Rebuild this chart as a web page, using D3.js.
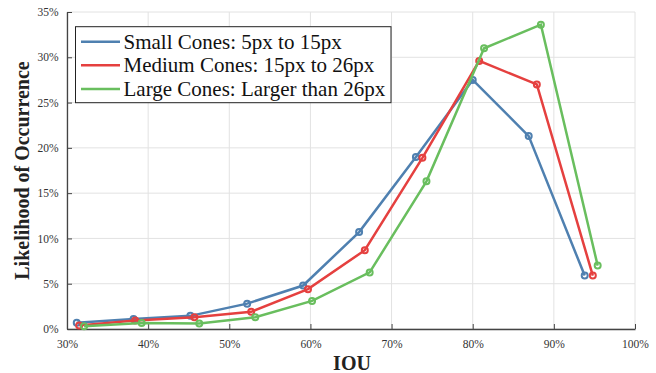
<!DOCTYPE html>
<html>
<head>
<meta charset="utf-8">
<script src="https://cdn.jsdelivr.net/npm/d3@7"></script>
<style>
  body { margin: 0; background: #fff; }
  .grid line { stroke: #e2e2e2; }
</style>
</head>
<body>
<div class="grafico"></div>
<script>
var margin = { top: 12, right: 21, bottom: 44, left: 67 },
  width = 656 - margin.left - margin.right,
  height = 373 - margin.top - margin.bottom;

// IOU (x) and likelihood (y), both in %
const seriesNames = ["Small Cones: 5px to 15px", "Medium Cones: 15px to 26px", "Large Cones: Larger than 26px"];
const colors = ["#4f80b0", "#e5403f", "#69be5e"];

const smallX = [31.2, 38.2, 45.2, 52.2, 59.1, 66.0, 73.0, 80.0, 86.9, 93.8];
const smallY = [0.7, 1.1, 1.45, 2.8, 4.8, 10.7, 19.0, 27.5, 21.3, 5.9];
const mediumX = [31.5, 38.4, 45.7, 52.7, 59.7, 66.7, 73.8, 80.8, 87.9, 94.8];
const mediumY = [0.4, 0.95, 1.3, 1.9, 4.4, 8.7, 18.9, 29.6, 27.0, 5.9];
const largeX = [32.1, 39.2, 46.3, 53.2, 60.2, 67.3, 74.3, 81.4, 88.4, 95.4];
const largeY = [0.3, 0.65, 0.6, 1.3, 3.1, 6.25, 16.3, 31.0, 33.6, 7.0];

const xTicks = [30, 40, 50, 60, 70, 80, 90, 100];
const yTicks = [0, 5, 10, 15, 20, 25, 30, 35];

const series = [[smallX, smallY], [mediumX, mediumY], [largeX, largeY]].map((s, i) => ({
  name: seriesNames[i],
  color: colors[i],
  values: s[0].map((x, j) => ({ x: x, y: s[1][j] }))
}));

let svg = d3.select(".grafico")
  .append("svg")
  .attr("width", 656)
  .attr("height", 373);

let g = svg.append("g")
  .attr("transform", "translate(" + margin.left + "," + margin.top + ")");

const x = d3.scaleLinear().domain([30, 100]).range([0, width]);
const y = d3.scaleLinear().domain([0, 35]).range([height, 0]);

// grid
g.append("g").attr("class", "grid")
  .selectAll("line.v").data(xTicks).enter().append("line")
  .attr("x1", d => x(d)).attr("x2", d => x(d))
  .attr("y1", 0).attr("y2", height);
g.append("g").attr("class", "grid")
  .selectAll("line.h").data(yTicks).enter().append("line")
  .attr("x1", 0).attr("x2", width)
  .attr("y1", d => y(d)).attr("y2", d => y(d));

// axes
let xAxis = g.append("g")
  .attr("transform", "translate(0," + height + ")")
  .call(d3.axisBottom(x).tickValues(xTicks).tickSizeInner(-5).tickSizeOuter(0).tickPadding(11).tickFormat(d => d + "%"));
let yAxis = g.append("g")
  .call(d3.axisLeft(y).tickValues(yTicks).tickSizeInner(-5).tickSizeOuter(0).tickPadding(8.5).tickFormat(d => d + "%"));
[xAxis, yAxis].forEach(a => {
  a.attr("font-family", "Liberation Serif, serif").attr("font-size", 11.5);
  a.selectAll(".tick text").attr("fill", "#333");
  a.select(".domain").attr("stroke", "#444").attr("stroke-width", 1.3);
  a.selectAll(".tick line").attr("stroke", "#444");
});

// lines
const line = d3.line().x(d => x(d.x)).y(d => y(d.y));
series.forEach(s => {
  g.append("path")
    .datum(s.values)
    .attr("fill", "none")
    .attr("stroke", s.color)
    .attr("stroke-width", 2.5)
    .attr("d", line);
  g.selectAll(null)
    .data(s.values)
    .enter().append("circle")
    .attr("cx", d => x(d.x))
    .attr("cy", d => y(d.y))
    .attr("r", 3)
    .attr("fill", "none")
    .attr("stroke", s.color)
    .attr("stroke-width", 2);
});

// legend
let legend = g.append("g").attr("transform", "translate(8.5,14.7)");
legend.append("rect")
  .attr("width", 315.5).attr("height", 76)
  .attr("fill", "#fff").attr("stroke", "#222").attr("stroke-width", 1);
let items = legend.selectAll("g.item").data(series).enter().append("g")
  .attr("transform", (d, i) => "translate(0," + (15 + i * 23.6) + ")");
items.append("line")
  .attr("x1", 5.5).attr("x2", 44.5)
  .attr("stroke", d => d.color).attr("stroke-width", 2.5);
items.append("text")
  .attr("x", 48).attr("y", 6.8)
  .attr("font-family", "Liberation Serif, serif")
  .attr("font-size", 21)
  .attr("fill", "#111")
  .text(d => d.name);

// axis titles
svg.append("text")
  .attr("x", margin.left + width / 2 + 1)
  .attr("y", 370)
  .attr("text-anchor", "middle")
  .attr("font-family", "Liberation Serif, serif")
  .attr("font-weight", "bold")
  .attr("font-size", 20)
  .attr("fill", "#222")
  .text("IOU");
svg.append("text")
  .attr("transform", "translate(29," + (margin.top + height / 2) + ") rotate(-90)")
  .attr("text-anchor", "middle")
  .attr("font-family", "Liberation Serif, serif")
  .attr("font-weight", "bold")
  .attr("font-size", 20)
  .attr("fill", "#222")
  .text("Likelihood of Occurrence");
</script>
</body>
</html>
